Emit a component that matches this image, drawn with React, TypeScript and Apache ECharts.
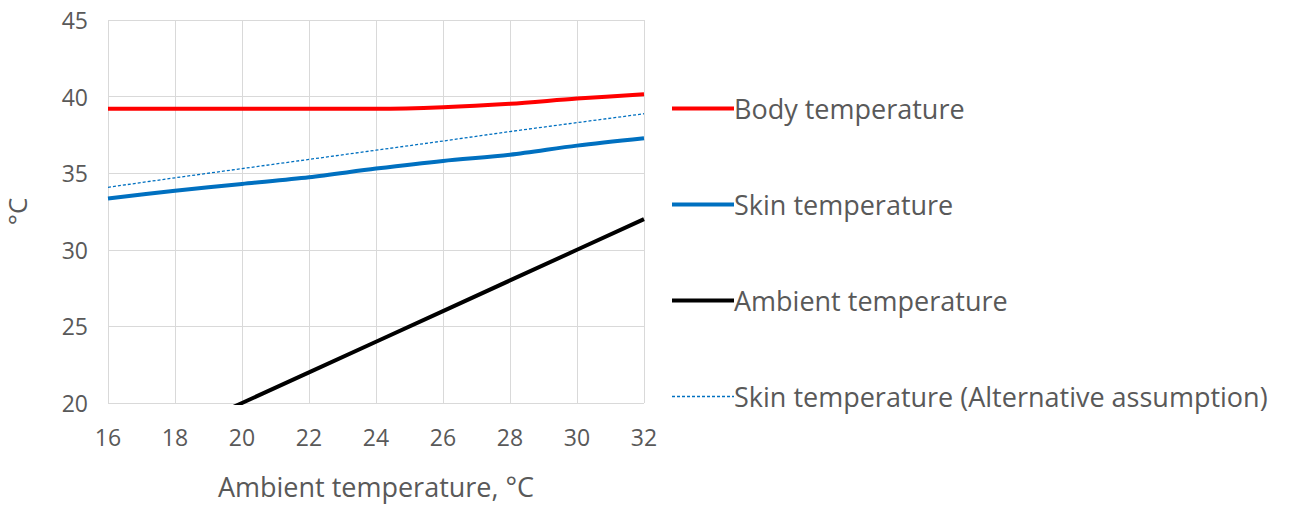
import React, { useEffect, useRef } from "react";
import * as echarts from "echarts";

const xValues = [16, 18, 20, 22, 24, 26, 28, 30, 32];
const bodyTemp = [39.2, 39.2, 39.2, 39.2, 39.2, 39.3, 39.53, 39.87, 40.15];
const skinTemp = [33.35, 33.85, 34.3, 34.74, 35.3, 35.8, 36.2, 36.8, 37.28];
const ambientTemp = [16, 18, 20, 22, 24, 26, 28, 30, 32];
const skinAltTemp = [34.08, 34.7, 35.3, 35.9, 36.5, 37.1, 37.72, 38.3, 38.88];
const seriesNames = [
  "Body temperature",
  "Skin temperature",
  "Ambient temperature",
  "Skin temperature (Alternative assumption)",
];

const FONT = "'Open Sans', 'Liberation Sans', sans-serif";
const TXT = "#595959";

export default function App() {
  const ref = useRef<HTMLDivElement>(null);
  useEffect(() => {
    document.body.style.margin = "0";
    const chart = echarts.init(ref.current!, null, { renderer: "svg" });
    const pair = (ys: number[]) => xValues.map((x, i) => [x, ys[i]]);
    chart.setOption({
      animation: false,
      textStyle: { fontFamily: FONT },
      grid: { left: 108, right: 648, top: 20, bottom: 98 },
      legend: {
        orient: "vertical",
        left: 665,
        top: 90,
        itemWidth: 62,
        itemHeight: 14,
        itemGap: 69,
        itemStyle: { opacity: 0 },
        textStyle: {
          fontSize: 27,
          lineHeight: 22,
          color: TXT,
          fontFamily: FONT,
          padding: [0, 0, 0, -5],
        },
        data: [
          { name: seriesNames[0], lineStyle: { width: 4, color: "#ff0000" } },
          { name: seriesNames[1], lineStyle: { width: 4, color: "#0070c0" } },
          { name: seriesNames[2], lineStyle: { width: 4, color: "#000000" } },
          { name: seriesNames[3], lineStyle: { width: 1.3, color: "#0070c0", type: [3, 2] } },
        ],
      },
      xAxis: {
        type: "value",
        min: 16,
        max: 32,
        interval: 2,
        name: "Ambient temperature, °C",
        nameLocation: "middle",
        nameGap: 70,
        nameTextStyle: { fontSize: 27, color: TXT, fontFamily: FONT },
        axisLine: { show: false },
        axisTick: { show: false },
        axisLabel: { fontSize: 23, color: TXT, margin: 22, fontFamily: FONT },
        splitLine: { show: true, lineStyle: { color: "#d9d9d9", width: 1 } },
      },
      yAxis: {
        type: "value",
        min: 20,
        max: 45,
        interval: 5,
        name: "°C",
        nameLocation: "middle",
        nameGap: 78,
        nameRotate: 90,
        nameTextStyle: { fontSize: 26, color: TXT, fontFamily: FONT },
        axisLine: { show: false },
        axisTick: { show: false },
        axisLabel: { fontSize: 23, color: TXT, margin: 20, fontFamily: FONT },
        splitLine: { show: true, lineStyle: { color: "#d9d9d9", width: 1 } },
      },
      series: [
        {
          name: seriesNames[0],
          type: "line",
          smooth: 0.3,
          symbol: "none",
          clip: true,
          data: pair(bodyTemp),
          lineStyle: { color: "#ff0000", width: 4 },
          itemStyle: { color: "#ff0000" },
        },
        {
          name: seriesNames[1],
          type: "line",
          smooth: 0.3,
          symbol: "none",
          clip: true,
          data: pair(skinTemp),
          lineStyle: { color: "#0070c0", width: 4 },
          itemStyle: { color: "#0070c0" },
        },
        {
          name: seriesNames[2],
          type: "line",
          symbol: "none",
          clip: true,
          data: pair(ambientTemp),
          lineStyle: { color: "#000000", width: 4 },
          itemStyle: { color: "#000000" },
        },
        {
          name: seriesNames[3],
          type: "line",
          symbol: "none",
          clip: true,
          data: pair(skinAltTemp),
          lineStyle: { color: "#0070c0", width: 1.3, type: [3, 2] },
          itemStyle: { color: "#0070c0" },
        },
      ],
    });
    return () => chart.dispose();
  }, []);
  return <div ref={ref} style={{ width: 1292, height: 505 }} />;
}
